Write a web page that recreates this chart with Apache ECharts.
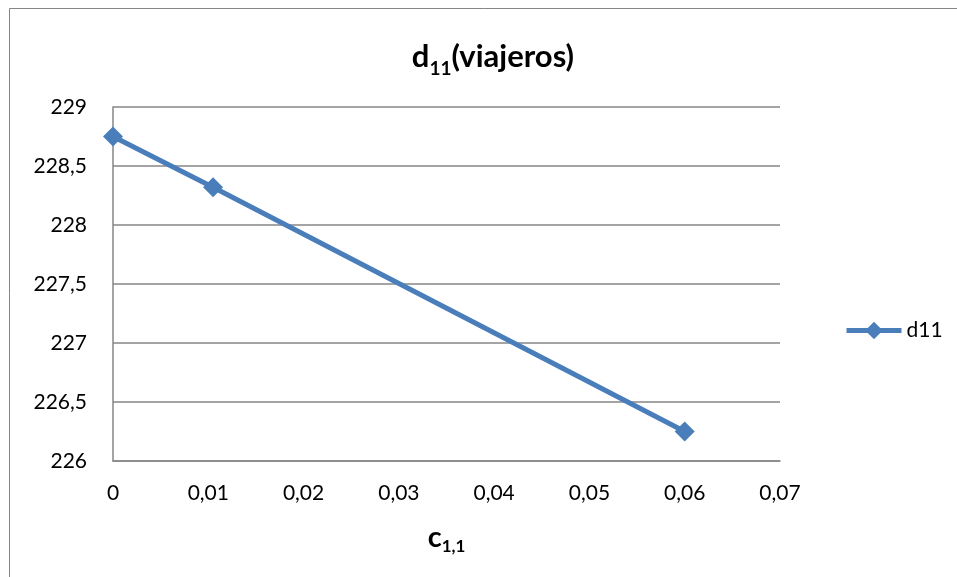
<!DOCTYPE html>
<html>
<head>
<meta charset="utf-8">
<script src="https://cdn.jsdelivr.net/npm/echarts@6/dist/echarts.min.js"></script>
<style>
html,body{margin:0;padding:0;background:#fff;}
#main{width:957px;height:577px;}
</style>
</head>
<body>
<div id="main"></div>
<script>
// Data
const seriesName = 'd11';
const xValues = [0, 0.0105, 0.06];
const d11Values = [228.75, 228.32, 226.25];
const xTicks = { min: 0, max: 0.07, interval: 0.01 };
const yTicks = { min: 226, max: 229, interval: 0.5 };

const fontFamily = 'Lato, "Open Sans", sans-serif';
const blue = '#4A7EBB';
const chart = echarts.init(document.getElementById('main'), null, { renderer: 'canvas' });
const comma = v => String(+v.toFixed(4)).replace('.', ',');

chart.setOption({
  backgroundColor: '#ffffff',
  animation: false,
  graphic: [{
    type: 'rect',
    shape: { x: 9.5, y: 8.5, width: 1000, height: 700 },
    style: { fill: 'none', stroke: '#868686', lineWidth: 1 },
    silent: true, z: -10
  }],
  title: {
    text: '{a|d}{b|11}{a|(viajeros)}',
    left: 488, top: 31, textAlign: 'center',
    textStyle: {
      rich: {
        a: { fontFamily, fontWeight: 'bold', fontSize: 31, color: '#000', lineHeight: 42 },
        b: { fontFamily, fontWeight: 'bold', fontSize: 19, color: '#000', lineHeight: 22, verticalAlign: 'bottom' }
      }
    }
  },
  legend: {
    orient: 'vertical',
    left: 844, top: 320, padding: 0,
    itemWidth: 55, itemHeight: 22,
    itemStyle: { color: blue },
    lineStyle: { color: blue, width: 5 },
    textStyle: { fontFamily, fontSize: 21, color: '#000' },
    data: [seriesName]
  },
  grid: { left: 113, right: 177, top: 107, bottom: 116, containLabel: false },
  xAxis: {
    type: 'value',
    min: xTicks.min, max: xTicks.max, interval: xTicks.interval,
    name: '{c|c}{s|1,1}',
    nameLocation: 'middle', nameGap: 60,
    nameTextStyle: {
      rich: {
        c: { fontFamily, fontWeight: 'bold', fontSize: 29, color: '#000', lineHeight: 34 },
        s: { fontFamily, fontWeight: 'bold', fontSize: 17, color: '#000', lineHeight: 18, verticalAlign: 'bottom' }
      }
    },
    axisLine: { show: true, onZero: false, lineStyle: { color: '#868686', width: 1.5 } },
    axisTick: { show: false },
    splitLine: { show: false },
    axisLabel: { fontFamily, fontSize: 21, color: '#000', margin: 22, formatter: comma }
  },
  yAxis: {
    type: 'value',
    min: yTicks.min, max: yTicks.max, interval: yTicks.interval,
    axisLine: { show: true, lineStyle: { color: '#868686', width: 1.5 } },
    axisTick: { show: false },
    splitLine: { show: true, lineStyle: { color: '#868686', width: 1.5 } },
    axisLabel: { fontFamily, fontSize: 21, color: '#000', margin: 26, formatter: comma }
  },
  series: [{
    name: seriesName,
    type: 'line',
    data: xValues.map((x, i) => [x, d11Values[i]]),
    symbol: 'diamond',
    symbolSize: 20,
    lineStyle: { color: blue, width: 5 },
    itemStyle: { color: blue },
    emphasis: { disabled: true }
  }]
});
</script>
</body>
</html>
